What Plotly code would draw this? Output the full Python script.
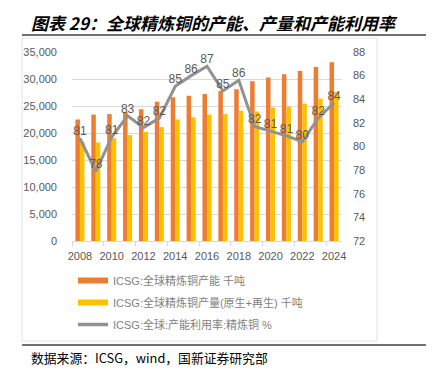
import plotly.graph_objects as go

years = list(range(2008, 2025))
capacity = [22500, 23400, 23500, 23900, 24400, 25800, 26600, 26900, 27200,
            27800, 28100, 29600, 30300, 30900, 31500, 32200, 33100]
production = [18400, 18250, 19050, 19600, 20200, 21100, 22500, 22900, 23400,
              23500, 24100, 24000, 24700, 24850, 25400, 26400, 27600]
utilization = [80.7, 77.9, 80.8, 82.6, 81.6, 82.4, 85.1, 86.0, 86.8,
               84.7, 85.6, 81.7, 81.3, 80.9, 80.4, 82.4, 83.7]
xtick_vals = [2008, 2010, 2012, 2014, 2016, 2018, 2020, 2022, 2024]

name_cap = "ICSG:全球精炼铜产能 千吨"
name_prod = "ICSG:全球精炼铜产量(原生+再生) 千吨"
name_util = "ICSG:全球:产能利用率:精炼铜 %"

C_CAP = "#ED7D31"
C_PROD = "#FFC000"
C_UTIL = "#919191"
TXT = "#595959"
FONT = "Liberation Sans, Noto Sans CJK SC, sans-serif"
CJK = "Noto Sans CJK SC, sans-serif"

# the page body has an 8px margin, so the figure is drawn 8px in from the
# window's top-left corner; sizes below account for that
OFF = 8
WIN_W, WIN_H = 434, 382
W, H = WIN_W - OFF, WIN_H - OFF
PX0, PX1, PY0, PY1 = 72, 342, 52, 241        # plot area in window pixels
L, R, T, B = PX0 - OFF, WIN_W - PX1, PY0 - OFF, WIN_H - PY1
PW, PH = PX1 - PX0, PY1 - PY0


def px(x):
    return (x - PX0) / PW


def py(y):
    return (PY1 - y) / PH


fig = go.Figure()
fig.add_trace(go.Bar(x=years, y=capacity, name=name_cap, marker_color=C_CAP,
                     marker_line_width=0, showlegend=False, yaxis="y"))
fig.add_trace(go.Bar(x=years, y=production, name=name_prod, marker_color=C_PROD,
                     marker_line_width=0, showlegend=False, yaxis="y"))
fig.add_trace(go.Scatter(x=years, y=utilization, name=name_util, yaxis="y2",
                         mode="lines+text", line=dict(color=C_UTIL, width=3),
                         texttemplate="%{y:.0f}", textposition="top center",
                         textfont=dict(size=12, color=TXT, family=FONT),
                         showlegend=False))
# legend entries (line-shaped keys like the original)
for i, (nm, col) in enumerate([(name_cap, C_CAP), (name_prod, C_PROD), (name_util, C_UTIL)]):
    fig.add_trace(go.Scatter(x=[None], y=[None], name=nm, mode="lines",
                             line=dict(color=col, width=6 if i < 2 else 3.5),
                             legendgroup=str(i), showlegend=True))

fig.update_layout(
    width=W, height=H,
    margin=dict(l=L, r=R, t=T, b=B, pad=0, autoexpand=False),
    paper_bgcolor="white", plot_bgcolor="white",
    barmode="group", bargap=0.43, bargroupgap=0.0,
    font=dict(family=FONT, size=11, color=TXT),
    xaxis=dict(range=[2007.5, 2024.5], tickvals=xtick_vals, ticks="",
               showgrid=False, showline=True, linecolor="#d9d9d9", linewidth=1,
               tickfont=dict(size=11, color=TXT), zeroline=False,
               ticklabelstandoff=5,
               minor=dict(tickvals=[2007.5 + 2 * k for k in range(9)],
                          ticks="outside", ticklen=4, tickcolor="#d9d9d9",
                          showgrid=False)),
    yaxis=dict(range=[0, 35000], dtick=5000, tickformat=",", showgrid=True,
               gridcolor="#d9d9d9", gridwidth=1, zeroline=False, ticks="",
               tickfont=dict(size=11, color=TXT), showline=False,
               ticklabelstandoff=14),
    yaxis2=dict(range=[72, 88], dtick=2, overlaying="y", side="right",
                showgrid=False, zeroline=False, ticks="",
                tickfont=dict(size=11, color=TXT), ticklabelstandoff=10),
    legend=dict(x=px(73), y=py(266), xanchor="left", yanchor="top",
                orientation="v", font=dict(size=11, color="#7f7f7f", family=FONT),
                tracegroupgap=3, itemwidth=30, bgcolor="rgba(0,0,0,0)"),
    showlegend=True,
)

shapes = [
    # chart-area frame
    dict(type="rect", xref="paper", yref="paper", x0=px(22), x1=px(377),
         y0=py(341), y1=py(38), line=dict(color="#e3e3e3", width=1),
         fillcolor="rgba(0,0,0,0)", layer="below"),
    # title underline
    dict(type="line", xref="paper", yref="paper", x0=px(22), x1=px(426),
         y0=py(35), y1=py(35), line=dict(color="#404040", width=1.5)),
    # bottom rule
    dict(type="line", xref="paper", yref="paper", x0=px(22), x1=px(426),
         y0=py(345), y1=py(345), line=dict(color="#404040", width=1.5)),
]
fig.update_layout(shapes=shapes)

fig.add_annotation(text="<b><i>图表 29：全球精炼铜的产能、产量和产能利用率</i></b>",
                   xref="paper", yref="paper", x=px(29), y=py(23),
                   xanchor="left", yanchor="middle", showarrow=False,
                   font=dict(family=CJK, size=17, color="#000000"))
fig.add_annotation(text="数据来源：ICSG，wind，国新证券研究部",
                   xref="paper", yref="paper", x=px(29), y=py(357),
                   xanchor="left", yanchor="middle", showarrow=False,
                   font=dict(family=CJK, size=12.8, color="#000000"))

fig.write_html("out.html")
